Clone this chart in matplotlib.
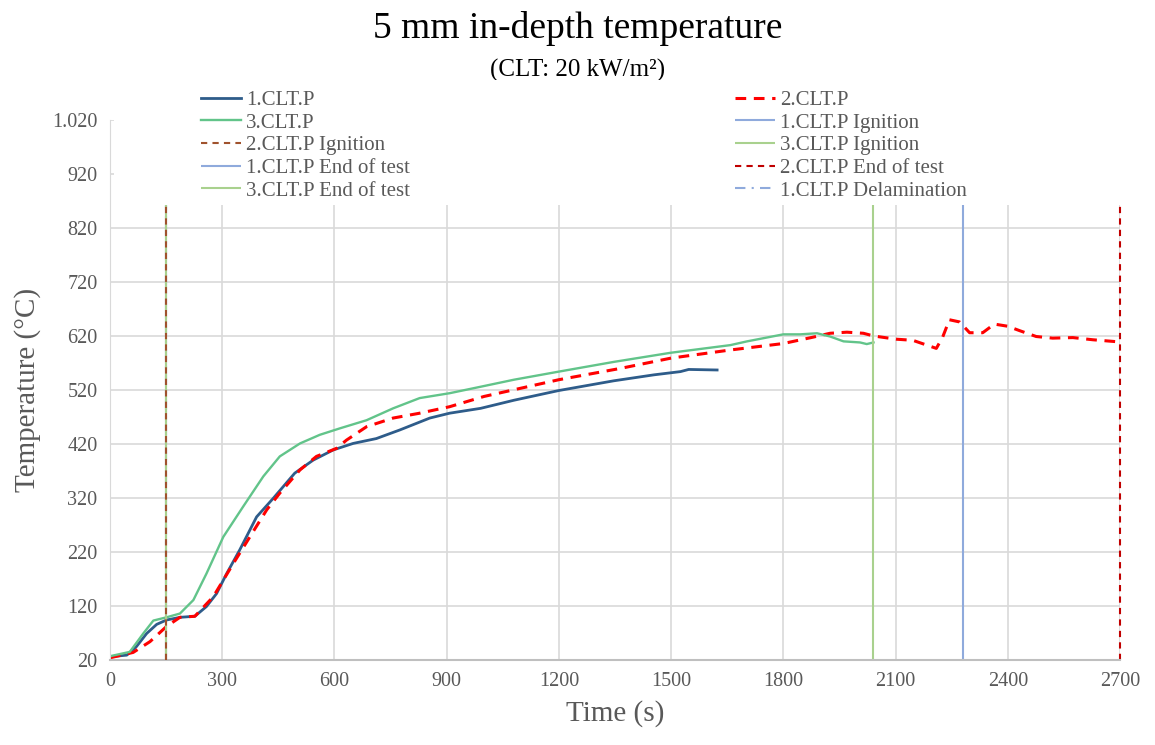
import matplotlib
matplotlib.use("Agg")
import matplotlib.pyplot as plt
from matplotlib.patches import Rectangle
from matplotlib.ticker import FuncFormatter

# 1.CLT.P
t1 = [0, 45, 71, 98, 125, 151, 187, 227, 258, 285, 312, 347, 392, 436, 494, 543,
      597, 650, 712, 775, 855, 908, 991, 1080, 1200, 1347, 1454, 1525, 1547, 1623]
y1 = [26, 29, 45, 69, 86, 94, 99, 101, 119, 143, 180, 224, 285, 319, 366, 390,
      409, 421, 430, 446, 468, 477, 486, 501, 519, 537, 548, 554, 558, 557]

# 2.CLT.P
t2 = [0, 62, 107, 151, 187, 227, 276, 330, 374, 419, 454, 508, 552, 606, 632, 686,
      757, 828, 908, 1000, 1200, 1365, 1500, 1658, 1800, 1881, 1925, 1970, 2014,
      2041, 2102, 2146, 2209, 2226, 2244, 2271, 2298, 2333, 2364, 2400, 2431, 2476,
      2520, 2574, 2627, 2698]
y2 = [24, 34, 54, 82, 99, 101, 137, 199, 248, 298, 329, 372, 397, 412, 427, 452,
      468, 477, 489, 508, 539, 560, 579, 594, 606, 618, 625, 627, 625,
      620, 614, 612, 597, 618, 650, 646, 626, 626, 642, 638, 630, 619,
      616, 617, 613, 609]

# 3.CLT.P
t3 = [0, 53, 89, 116, 151, 187, 223, 258, 303, 356, 410, 454, 508, 561, 615, 686,
      757, 828, 908, 991, 1080, 1200, 1347, 1500, 1658, 1703, 1800, 1845, 1890,
      1925, 1961, 2005, 2023, 2041]
y3 = [27, 35, 69, 93, 99, 106, 131, 180, 248, 304, 360, 397, 421, 437, 449, 464,
      486, 505, 514, 526, 539, 554, 572, 589, 603, 610, 623, 623, 625,
      619, 610, 608, 605, 608]

# event times (s)
ignition = {"1": 150, "2": 150, "3": 150}
end_test = {"1": 2280, "2": 2700, "3": 2040}
delamination_1 = 150

plt.rcParams['font.family'] = ['Liberation Serif', 'DejaVu Serif']

fig = plt.figure(figsize=(11.55, 7.45), dpi=100)
ax = fig.add_axes([0.0952, 0.1141, 0.8745, 0.7249])

gray = '#595959'
lblue = '#8FAADC'
lgreen = '#A9D18E'
dred = '#C00000'
dash = (0, (3, 2.5))

h1, = ax.plot(t1, y1, color='#2E5C8A', lw=2.0, label='1.CLT.P')
h2, = ax.plot(t2, y2, color='#FF0000', lw=2.2, ls=(0, (3.5, 2.5)), label='2.CLT.P')
h3, = ax.plot(t3, y3, color='#62C48A', lw=1.7, label='3.CLT.P')

kw = dict(ymin=20, ymax=1020, lw=1.5, clip_on=False)
h4 = ax.vlines(ignition["1"], color=lblue, label='1.CLT.P Ignition', **kw)
h6 = ax.vlines(ignition["3"], color=lgreen, label='3.CLT.P Ignition', **kw)
h5 = ax.vlines(ignition["2"], color='#A0522D', linestyles=dash, label='2.CLT.P Ignition', **kw)
h7 = ax.vlines(end_test["1"], color=lblue, label='1.CLT.P End of test', **kw)
h8 = ax.vlines(end_test["2"], color=dred, linestyles=dash, label='2.CLT.P End of test', **kw)
h9 = ax.vlines(end_test["3"], color=lgreen, label='3.CLT.P End of test', **kw)
h10 = ax.vlines(delamination_1, color=lblue, linestyles=(0, (5, 3, 1, 3)),
                label='1.CLT.P Delamination', zorder=1, **kw)
h5.set_zorder(3)

ax.set_xlim(0, 2700)
ax.set_ylim(20, 1020)
ax.set_xticks(range(0, 2701, 300))
ax.set_yticks(range(20, 1021, 100))
ax.yaxis.set_major_formatter(FuncFormatter(lambda v, p: f"{int(v):,}".replace(",", ".")))
ax.grid(True, color='#D9D9D9', lw=1.2)
ax.set_axisbelow(True)
for s in ['top', 'right']:
    ax.spines[s].set_visible(False)
ax.spines['left'].set_color('#D9D9D9')
ax.spines['bottom'].set_color('#BFBFBF')
ax.spines['bottom'].set_linewidth(1.5)
ax.tick_params(length=0, labelsize=14.5, labelcolor=gray, pad=9)

ax.set_xlabel('Time (s)', fontsize=21, color=gray, labelpad=6)
ax.set_ylabel('Temperature (°C)', fontsize=21, color=gray, labelpad=8)

fig.text(0.5, 0.962, '5 mm in-depth temperature', ha='center', va='center', fontsize=27, color='black')
fig.text(0.5, 0.905, '(CLT: 20 kW/m²)', ha='center', va='center', fontsize=18, color='black')

# white legend area covering the top of the plot
fig.patches.append(Rectangle((114 / 1155, 1 - 205 / 745), 1015 / 1155, 125 / 745,
                             transform=fig.transFigure, facecolor='white',
                             edgecolor='none', zorder=4))

# row-major order like the reference (matplotlib fills columns first)
handles = [h1, h3, h5, h7, h9, h2, h4, h6, h8, h10]
leg = fig.legend(handles=handles, ncol=2, loc='upper left', bbox_to_anchor=(0.158, 0.904),
                 frameon=False, fontsize=15, labelcolor=gray, handlelength=1.9,
                 handletextpad=0.25, columnspacing=15.6, labelspacing=0.15)
leg.set_zorder(5)

fig.savefig('out.png', dpi=100)
